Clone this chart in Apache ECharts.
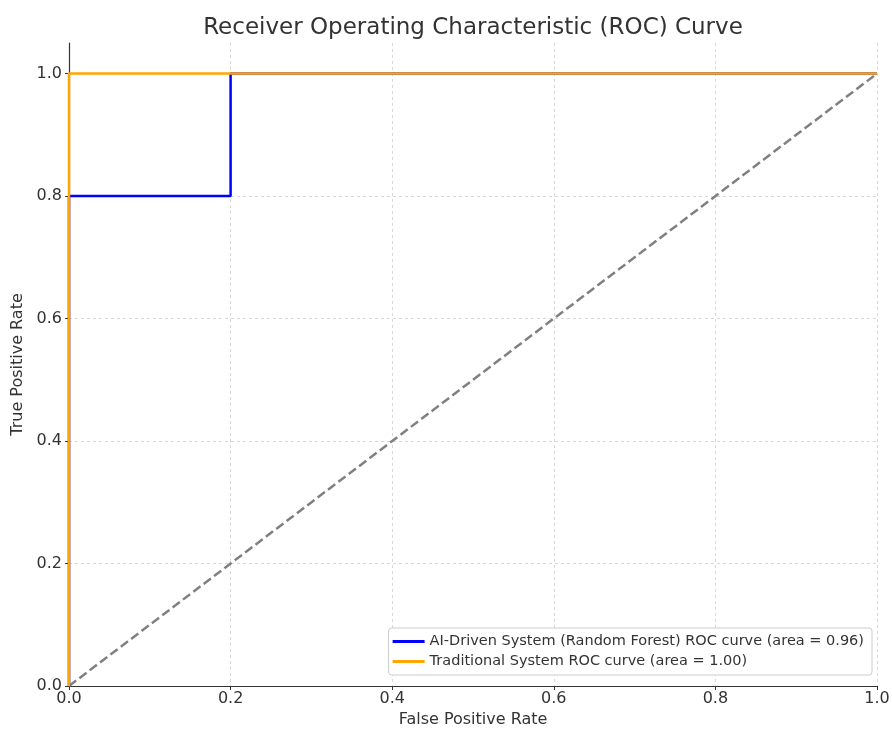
<!DOCTYPE html>
<html>
<head>
<meta charset="utf-8">
<script src="https://cdn.jsdelivr.net/npm/echarts@6/dist/echarts.min.js"></script>
<style>html,body{margin:0;padding:0;background:#fff}#c{width:892px;height:729px}</style>
</head>
<body>
<div id="c"></div>
<script>
var title = 'Receiver Operating Characteristic (ROC) Curve';
var xTicks = [0, 0.2, 0.4, 0.6, 0.8, 1.0];
var aiFpr = [0, 0, 0.2, 0.2, 1];
var aiTpr = [0, 0.8, 0.8, 1, 1];
var tradFpr = [0, 0, 1];
var tradTpr = [0, 1, 1];
var chanceFpr = [0, 1];
var chanceTpr = [0, 1];
var aiName = 'AI-Driven System (Random Forest) ROC curve (area = 0.96)';
var tradName = 'Traditional System ROC curve (area = 1.00)';

function zip(a, b) { return a.map(function (v, i) { return [v, b[i]]; }); }

var font = 'DejaVu Sans';
var chart = echarts.init(document.getElementById('c'), null, {renderer: 'canvas'});
chart.setOption({
  animation: false,
  backgroundColor: '#fff',
  title: {text: title, left: 473, textAlign: 'center', top: 17, padding: 0,
    textStyle: {fontFamily: font, fontSize: 23, fontWeight: 'normal', color: '#333'}},
  grid: {left: 69, right: 15, top: 43, bottom: 43, containLabel: false, outerBoundsMode: 'none'},
  legend: {
    orient: 'vertical', right: 20, bottom: 54,
    data: [aiName, tradName],
    backgroundColor: '#fff', borderColor: '#ccc', borderWidth: 1, borderRadius: 3,
    padding: [6, 8, 6, 4], itemGap: 5, itemWidth: 32, itemHeight: 3,
    icon: 'rect',
    textStyle: {fontFamily: font, fontSize: 14.5, color: '#333'}
  },
  xAxis: {
    type: 'value', min: 0, max: 1, interval: 0.2,
    name: 'False Positive Rate', nameLocation: 'middle', nameGap: 25,
    nameTextStyle: {fontFamily: font, fontSize: 16, color: '#333'},
    axisLine: {show: true, lineStyle: {color: '#333', width: 1.2}},
    axisTick: {show: true, length: 4, lineStyle: {color: '#333'}},
    axisLabel: {fontFamily: font, fontSize: 16, color: '#333', margin: 5,
      formatter: function (v) { return v.toFixed(1); }},
    splitLine: {show: true, lineStyle: {color: '#d8d8d8', type: [3, 3], width: 1}}
  },
  yAxis: {
    type: 'value', min: 0, max: 1.05, interval: 0.2,
    name: 'True Positive Rate', nameLocation: 'middle', nameGap: 37,
    nameTextStyle: {fontFamily: font, fontSize: 16, color: '#333'},
    axisLine: {show: true, lineStyle: {color: '#333', width: 1.2}},
    axisTick: {show: true, length: 4, lineStyle: {color: '#333'}},
    axisLabel: {fontFamily: font, fontSize: 16, color: '#333', margin: 7, showMaxLabel: false,
      formatter: function (v) { return v > 1.001 ? '' : v.toFixed(1); }},
    splitLine: {show: true, showMaxLine: false, lineStyle: {color: '#d8d8d8', type: [3, 3], width: 1}}
  },
  series: [
    {type: 'line', name: 'chance', data: zip(chanceFpr, chanceTpr), symbol: 'none', silent: true,
      lineStyle: {color: '#808080', width: 2.5, type: [9, 4]}, z: 2},
    {type: 'line', name: aiName, data: zip(aiFpr, aiTpr), symbol: 'none',
      lineStyle: {color: '#0000ff', width: 2.5}, itemStyle: {color: '#0000ff'}, z: 3},
    {type: 'line', name: tradName, data: zip(tradFpr, tradTpr), symbol: 'none',
      lineStyle: {color: '#ffa500', width: 2.5}, itemStyle: {color: '#ffa500'}, z: 4}
  ]
});
</script>
</body>
</html>
